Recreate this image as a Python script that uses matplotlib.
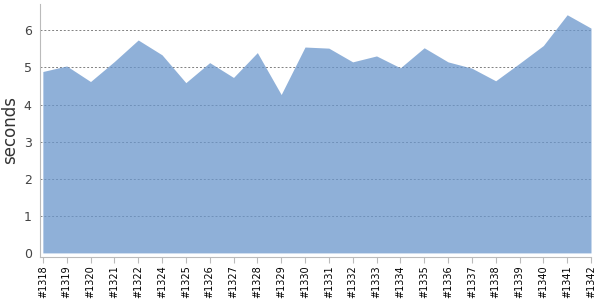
import matplotlib
matplotlib.use('Agg')
import matplotlib.pyplot as plt

builds = ['#1318', '#1319', '#1320', '#1321', '#1322', '#1324', '#1325', '#1326',
          '#1327', '#1328', '#1329', '#1330', '#1331', '#1332', '#1333', '#1334',
          '#1335', '#1336', '#1337', '#1338', '#1339', '#1340', '#1341', '#1342']
seconds = [4.89, 5.04, 4.62, 5.16, 5.74, 5.34, 4.59, 5.13, 4.73, 5.40, 4.27, 5.55,
           5.52, 5.15, 5.31, 4.99, 5.53, 5.15, 4.98, 4.64, 5.11, 5.59, 6.42, 6.06]

fig = plt.figure(figsize=(6, 3), dpi=100)
ax = fig.add_axes([40/600, 1-257/300, 551/600, 253/300])

x = range(len(builds))
ax.fill_between(x, 0, seconds, color='#6a96cc', alpha=0.75, linewidth=0, zorder=3)

ax.set_xlim(-0.12, len(builds)-1)
ax.set_ylim(-0.11, 6.71)
ax.set_yticks(range(0, 7))
ax.grid(axis='y', linestyle=(0, (2, 2)), color='#808080', linewidth=0.7, zorder=1)
ax.yaxis.get_gridlines()[0].set_visible(False)

ax.set_xticks(list(x))
ax.set_xticklabels(builds, rotation=90, fontsize=7)
ax.tick_params(axis='x', length=4, color='#bbbbbb', pad=2)
ax.tick_params(axis='y', length=0, labelsize=9, labelcolor='#444444', pad=6)
ax.set_ylabel('seconds', fontsize=12, color='#333333', labelpad=3)

for s in ['top', 'right']:
    ax.spines[s].set_visible(False)
for s in ['left', 'bottom']:
    ax.spines[s].set_color('#bbbbbb')

fig.savefig('out.png', dpi=100)
